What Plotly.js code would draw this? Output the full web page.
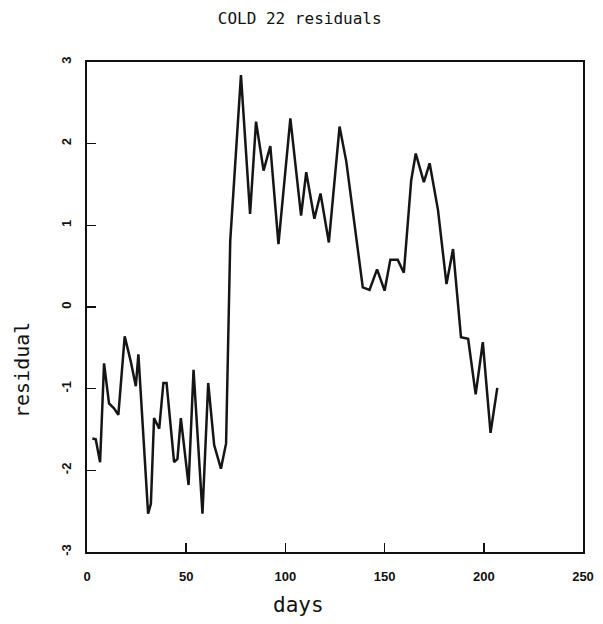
<!DOCTYPE html>
<html>
<head>
<meta charset="utf-8">
<script src="https://cdn.plot.ly/plotly-3.0.1.min.js"></script>
<style>html,body{margin:0;padding:0;background:#fff;}#chart{width:603px;height:624px;}</style>
</head>
<body>
<div id="chart"></div>
<script>
// Data
const days = [2.7, 4.4, 6.6, 8.6, 11.1, 13.6, 15.8, 19.0, 22.1, 24.6, 25.9, 30.8, 32.2, 33.8, 36.4, 38.5, 40.1, 43.9, 45.6, 47.3,
              51.2, 53.7, 58.2, 61.1, 64.1, 67.5, 70.1, 72.2, 77.6, 82.2, 85.2, 89.0, 92.4, 96.5, 102.5, 107.9, 110.5, 114.6, 117.7, 121.9,
              127.3, 130.7, 139.0, 142.4, 146.2, 150.0, 152.9, 156.6, 159.7, 163.4, 165.7, 169.8, 172.7, 176.9, 181.2, 184.5, 188.5, 192.1, 195.9, 199.5,
              203.4, 206.8];
const residual = [-1.61, -1.62, -1.90, -0.69, -1.18, -1.24, -1.32, -0.36, -0.67, -0.97, -0.58, -2.53, -2.41, -1.36, -1.49, -0.93, -0.93, -1.90, -1.86, -1.36,
                  -2.18, -0.77, -2.53, -0.93, -1.69, -1.98, -1.67, 0.81, 2.84, 1.14, 2.27, 1.67, 1.97, 0.77, 2.31, 1.12, 1.65, 1.08, 1.39, 0.79,
                  2.21, 1.78, 0.24, 0.21, 0.46, 0.20, 0.58, 0.58, 0.42, 1.55, 1.88, 1.53, 1.76, 1.19, 0.28, 0.71, -0.37, -0.39, -1.07, -0.43,
                  -1.54, -0.99];
const xTicks = [0, 50, 100, 150, 200, 250];
const yTicks = [-3, -2, -1, 0, 1, 2, 3];
const chartTitle = "COLD 22 residuals";
const xLabel = "days";
const yLabel = "residual";

const trace = {
  x: days, y: residual, type: 'scatter', mode: 'lines',
  line: {color: '#151515', width: 2.5},
  hoverinfo: 'skip'
};

const tickFont = {family: 'Liberation Sans', size: 13, color: '#111', weight: 'bold'};

const layout = {
  width: 603, height: 624,
  margin: {l: 87, r: 20, t: 62, b: 72},
  paper_bgcolor: '#ffffff', plot_bgcolor: '#ffffff',
  showlegend: false,
  title: {
    text: chartTitle, x: 0.497, xref: 'container', xanchor: 'center',
    y: 1 - 18 / 624, yref: 'container', yanchor: 'middle',
    font: {family: 'DejaVu Sans Mono', size: 16, color: '#111'}
  },
  xaxis: {
    range: [0, 250], tickvals: xTicks, ticktext: xTicks.map(String),
    ticks: 'inside', ticklen: 9, tickwidth: 1.5, tickcolor: '#111',
    showline: true, linewidth: 2, linecolor: '#111', mirror: true,
    showgrid: false, zeroline: false,
    tickfont: tickFont,
    ticklabelstandoff: 11
  },
  yaxis: {
    range: [-3, 3], tickvals: yTicks, ticktext: yTicks.map(String),
    ticks: 'inside', ticklen: 9, tickwidth: 1.5, tickcolor: '#111',
    showline: true, linewidth: 2, linecolor: '#111', mirror: true,
    showgrid: false, zeroline: false, tickangle: -90,
    tickfont: tickFont,
    ticklabelstandoff: 9
  },
  annotations: [
    {text: xLabel, xref: 'paper', yref: 'paper', x: (298 - 87) / 496, y: -(605 - 552) / 490,
     xanchor: 'center', yanchor: 'middle', showarrow: false,
     font: {family: 'DejaVu Sans Mono', size: 21, color: '#111'}},
    {text: yLabel, xref: 'paper', yref: 'paper', x: -(87 - 22) / 496, y: (552 - 370) / 490,
     xanchor: 'center', yanchor: 'middle', showarrow: false, textangle: -90,
     font: {family: 'DejaVu Sans Mono', size: 20, color: '#111'}}
  ]
};

Plotly.newPlot('chart', [trace], layout, {displayModeBar: false, staticPlot: true});
</script>
</body>
</html>
